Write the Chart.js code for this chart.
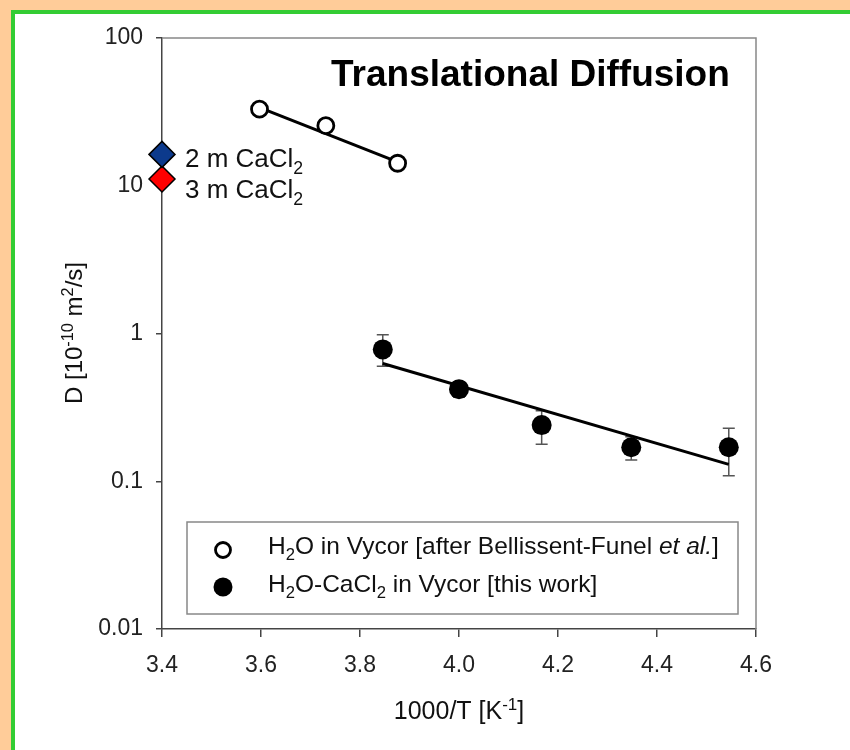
<!DOCTYPE html>
<html>
<head>
<meta charset="utf-8">
<script src="https://cdn.jsdelivr.net/npm/chart.js@4/dist/chart.umd.min.js"></script>
<style>
  html, body { margin: 0; padding: 0; background: #ffcc99; }
  #frame {
    position: absolute; left: 11px; top: 10px; right: 0; bottom: 0;
    width: 839px; height: 740px;
    background: #fff;
    border-left: 4px solid #33cc33; border-top: 4px solid #33cc33;
    box-sizing: border-box;
  }
  #chart { position: absolute; left: 0; top: 0; }
</style>
</head>
<body>
<div id="frame"></div>
<canvas id="chart" width="850" height="750"></canvas>
<script>
// Data
const xTicks = [3.4, 3.6, 3.8, 4.0, 4.2, 4.4, 4.6];
const xTickLabels = ['3.4', '3.6', '3.8', '4.0', '4.2', '4.4', '4.6'];
const yTicks = [0.01, 0.1, 1, 10, 100];
const yTickLabels = ['0.01', '0.1', '1', '10', '100'];

// H2O in Vycor (open circles)
const openX = [3.597, 3.731, 3.876];
const openY = [33, 25.5, 14.2];
const openFitX = [3.60, 3.873];
const openFitY = [33.5, 14.6];

// H2O-CaCl2 in Vycor (filled circles)
const filledX = [3.846, 4.0, 4.167, 4.348, 4.545];
const filledY = [0.78, 0.42, 0.24, 0.17, 0.17];
const filledErrLow = [0.60, 0.37, 0.178, 0.139, 0.109];
const filledErrHigh = [0.98, 0.47, 0.30, 0.20, 0.228];
const filledFitX = [3.846, 4.545];
const filledFitY = [0.627, 0.130];

// bulk solutions
const salt2mX = [3.4];
const salt2mY = [16.3];
const salt3mX = [3.4];
const salt3mY = [11.1];

const FONT = "Arial, 'Liberation Sans', sans-serif";

function pts(xs, ys) {
  return xs.map((x, i) => ({ x: x, y: ys[i] }));
}

// draw text made of runs: {t, sub, sup, it, bold}
function setFont(ctx, p, size) {
  const s = (p.sub || p.sup) ? size * 0.68 : size;
  ctx.font = (p.it ? 'italic ' : '') + (p.bold ? 'bold ' : '') + s + 'px ' + FONT;
}

function richWidth(ctx, parts, size) {
  let w = 0;
  parts.forEach(p => {
    setFont(ctx, p, size);
    w += ctx.measureText(p.t).width;
  });
  return w;
}

function drawRich(ctx, parts, x, y, size, align) {
  let cx = x;
  if (align === 'center') cx = x - richWidth(ctx, parts, size) / 2;
  ctx.textAlign = 'left';
  ctx.textBaseline = 'alphabetic';
  parts.forEach(p => {
    setFont(ctx, p, size);
    let dy = 0;
    if (p.sub) dy = size * 0.25;
    if (p.sup) dy = -size * 0.38;
    ctx.fillText(p.t, cx, y + dy);
    cx += ctx.measureText(p.t).width;
  });
}

const errorBars = {
  id: 'errorBars',
  beforeDatasetsDraw(chart) {
    const ctx = chart.ctx;
    const xs = chart.scales.x, ys = chart.scales.y;
    ctx.save();
    ctx.strokeStyle = '#555';
    ctx.lineWidth = 1.5;
    filledX.forEach((v, i) => {
      const px = xs.getPixelForValue(v);
      const lo = ys.getPixelForValue(filledErrLow[i]);
      const hi = ys.getPixelForValue(filledErrHigh[i]);
      ctx.beginPath();
      ctx.moveTo(px, lo); ctx.lineTo(px, hi);
      ctx.moveTo(px - 6, lo); ctx.lineTo(px + 6, lo);
      ctx.moveTo(px - 6, hi); ctx.lineTo(px + 6, hi);
      ctx.stroke();
    });
    ctx.restore();
  }
};

const decorations = {
  id: 'decorations',
  beforeDatasetsDraw(chart) {
    const ctx = chart.ctx;
    const a = chart.chartArea;
    // top and right frame of the plot
    ctx.save();
    ctx.strokeStyle = '#888';
    ctx.lineWidth = 1.5;
    ctx.beginPath();
    ctx.moveTo(a.left, a.top);
    ctx.lineTo(a.right, a.top);
    ctx.lineTo(a.right, a.bottom);
    ctx.stroke();
    ctx.restore();
  },
  afterDatasetsDraw(chart) {
    const ctx = chart.ctx;
    ctx.save();
    ctx.fillStyle = '#000';

    // title
    drawRich(ctx, [{ t: 'Translational Diffusion', bold: true }], 331, 86, 37, 'left');

    // labels next to the diamonds
    ctx.fillStyle = '#111';
    drawRich(ctx, [{ t: '2 m CaCl' }, { t: '2', sub: true }], 185, 167, 26, 'left');
    drawRich(ctx, [{ t: '3 m CaCl' }, { t: '2', sub: true }], 185, 198, 26, 'left');

    // x axis title
    drawRich(ctx, [{ t: '1000/T [K' }, { t: '-1', sup: true }, { t: ']' }], 459, 719, 25, 'center');

    // y axis title
    ctx.save();
    ctx.translate(82, 333);
    ctx.rotate(-Math.PI / 2);
    drawRich(ctx, [{ t: 'D [10' }, { t: '-10', sup: true }, { t: ' m' }, { t: '2', sup: true }, { t: '/s]' }], 0, 0, 24, 'center');
    ctx.restore();

    // legend box
    ctx.fillStyle = '#fff';
    ctx.fillRect(187, 522, 551, 92);
    ctx.strokeStyle = '#888';
    ctx.lineWidth = 1.5;
    ctx.strokeRect(187, 522, 551, 92);

    ctx.fillStyle = '#fff';
    ctx.strokeStyle = '#000';
    ctx.lineWidth = 2.8;
    ctx.beginPath(); ctx.arc(223, 550, 7.5, 0, Math.PI * 2); ctx.fill(); ctx.stroke();
    ctx.fillStyle = '#000';
    ctx.beginPath(); ctx.arc(223, 587, 9.5, 0, Math.PI * 2); ctx.fill();

    ctx.fillStyle = '#111';
    drawRich(ctx, [{ t: 'H' }, { t: '2', sub: true }, { t: 'O in Vycor [after Bellissent-Funel ' },
      { t: 'et al.', it: true }, { t: ']' }], 268, 554, 24.5, 'left');
    drawRich(ctx, [{ t: 'H' }, { t: '2', sub: true }, { t: 'O-CaCl' }, { t: '2', sub: true },
      { t: ' in Vycor [this work]' }], 268, 592, 24.5, 'left');
    ctx.restore();
  }
};

new Chart(document.getElementById('chart').getContext('2d'), {
  type: 'scatter',
  data: {
    datasets: [
      {
        label: 'H2O in Vycor fit',
        data: pts(openFitX, openFitY),
        showLine: true, pointRadius: 0,
        borderColor: '#000', borderWidth: 3,
        order: 2
      },
      {
        label: 'H2O-CaCl2 in Vycor fit',
        data: pts(filledFitX, filledFitY),
        showLine: true, pointRadius: 0,
        borderColor: '#000', borderWidth: 3,
        order: 2
      },
      {
        label: 'H2O in Vycor [after Bellissent-Funel et al.]',
        data: pts(openX, openY),
        pointRadius: 8, borderWidth: 2.8,
        backgroundColor: '#fff', borderColor: '#000',
        order: 1
      },
      {
        label: 'H2O-CaCl2 in Vycor [this work]',
        data: pts(filledX, filledY),
        pointRadius: 10, borderWidth: 0,
        backgroundColor: '#000', borderColor: '#000',
        order: 1
      },
      {
        label: '2 m CaCl2',
        data: pts(salt2mX, salt2mY),
        pointStyle: 'rectRot', pointRadius: 13, borderWidth: 1.5,
        backgroundColor: '#0c3a8c', borderColor: '#000',
        clip: false, order: 0
      },
      {
        label: '3 m CaCl2',
        data: pts(salt3mX, salt3mY),
        pointStyle: 'rectRot', pointRadius: 13, borderWidth: 1.5,
        backgroundColor: '#ff0000', borderColor: '#000',
        clip: false, order: 0
      }
    ]
  },
  options: {
    responsive: false,
    animation: false,
    layout: { padding: { left: 0, top: 38, right: 94, bottom: 0 } },
    plugins: {
      legend: { display: false },
      tooltip: { enabled: false }
    },
    scales: {
      x: {
        type: 'linear',
        min: 3.4, max: 4.6,
        afterBuildTicks: scale => { scale.ticks = xTicks.map(v => ({ value: v })); },
        afterFit: scale => { scale.height = 121; },
        ticks: {
          callback: (v, i) => xTickLabels[i],
          color: '#222',
          font: { family: FONT, size: 23 },
          padding: 15,
          maxRotation: 0
        },
        grid: { drawOnChartArea: false, drawTicks: true, tickLength: 8, color: '#444', lineWidth: 1.5 },
        border: { display: true, color: '#444', width: 1.5 }
      },
      y: {
        type: 'logarithmic',
        min: 0.01, max: 100,
        afterBuildTicks: scale => { scale.ticks = yTicks.map(v => ({ value: v })); },
        afterFit: scale => { scale.width = 162; },
        ticks: {
          callback: (v, i) => yTickLabels[i],
          color: '#222',
          font: { family: FONT, size: 23 },
          padding: 13
        },
        grid: { drawOnChartArea: false, drawTicks: true, tickLength: 6, color: '#444', lineWidth: 1.5 },
        border: { display: true, color: '#444', width: 1.5 }
      }
    }
  },
  plugins: [errorBars, decorations]
});
</script>
</body>
</html>
